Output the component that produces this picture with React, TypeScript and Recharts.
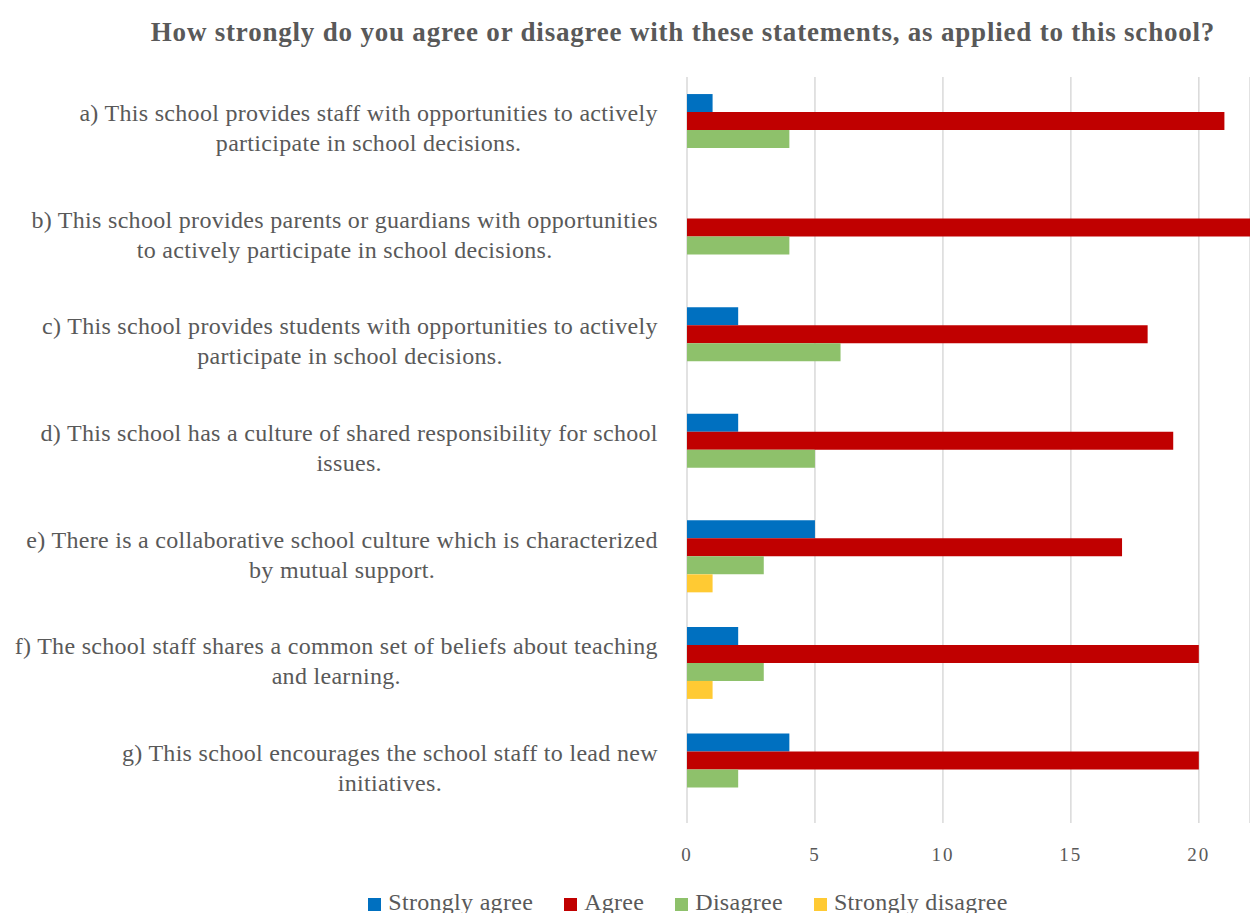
import {
  Bar,
  BarChart,
  CartesianGrid,
  Legend,
  XAxis,
  YAxis,
} from "recharts";

document.body.style.margin = "0";

const categories = [
  "a) This school provides staff with opportunities to actively participate in school decisions.",
  "b) This school provides parents or guardians with opportunities to actively participate in school decisions.",
  "c) This school provides students with opportunities to actively participate in school decisions.",
  "d) This school has a culture of shared responsibility for school issues.",
  "e) There is a collaborative school culture which is characterized by mutual support.",
  "f) The school staff shares a common set of beliefs about teaching and learning.",
  "g) This school encourages the school staff to lead new initiatives.",
];
const stronglyAgree = [1, 0, 2, 2, 5, 2, 4];
const agree = [21, 22, 18, 19, 17, 20, 20];
const disagree = [4, 4, 6, 5, 3, 3, 2];
const stronglyDisagree = [0, 0, 0, 0, 1, 1, 0];
const xTicks = [0, 5, 10, 15, 20];

const series = [
  { key: "sa", name: "Strongly agree", color: "#0070C0" },
  { key: "a", name: "Agree", color: "#C00000" },
  { key: "d", name: "Disagree", color: "#8EC16B" },
  { key: "sd", name: "Strongly disagree", color: "#FFCA33" },
];

const data = categories.map((category, i) => ({
  category,
  sa: stronglyAgree[i],
  a: agree[i],
  d: disagree[i],
  sd: stronglyDisagree[i],
}));

const FONT = '"Liberation Serif", "DejaVu Serif", serif';
const TEXT = "#595959";
const LABEL_SIZE = 24;
const LABEL_SPACING = 0.3;

let ctx: CanvasRenderingContext2D | null = null;
function measure(s: string) {
  if (!ctx) ctx = document.createElement("canvas").getContext("2d");
  if (!ctx) return s.length * LABEL_SIZE * 0.45;
  ctx.font = `${LABEL_SIZE}px ${FONT}`;
  return ctx.measureText(s).width + s.length * LABEL_SPACING;
}

function wrap(s: string, max: number) {
  const lines: string[] = [];
  let cur = "";
  for (const w of s.split(" ")) {
    const next = cur ? cur + " " + w : w;
    if (next.length > max && cur) {
      lines.push(cur);
      cur = w;
    } else cur = next;
  }
  if (cur) lines.push(cur);
  return lines;
}

function CategoryTick(props: any) {
  const { x, y, payload } = props;
  const lines = wrap(payload.value, 65);
  const w = Math.max(...lines.map(measure));
  const cx = x - 21 - w / 2;
  const lh = 30;
  const y0 = y - 2 - ((lines.length - 1) * lh) / 2;
  return (
    <g>
      {lines.map((l, i) => (
        <text
          key={i}
          x={cx}
          y={y0 + i * lh}
          textAnchor="middle"
          dominantBaseline="central"
          fill={TEXT}
          fontSize={LABEL_SIZE}
          fontFamily={FONT}
          letterSpacing={LABEL_SPACING}
        >
          {l}
        </text>
      ))}
    </g>
  );
}

function SeriesLegend() {
  return (
    <div
      style={{
        display: "flex",
        justifyContent: "center",
        gap: 31,
        height: 30,
        lineHeight: "30px",
        fontSize: 24,
        letterSpacing: 0.3,
        fontFamily: FONT,
        color: TEXT,
        paddingLeft: 126,
        transform: "translateY(4px)",
      }}
    >
      {series.map((s) => (
        <div key={s.key} style={{ display: "flex", alignItems: "center" }}>
          <span
            style={{
              display: "inline-block",
              width: 13,
              height: 13,
              background: s.color,
              marginRight: 7,
              marginTop: 4,
            }}
          />
          {s.name}
        </div>
      ))}
    </div>
  );
}

export default function App() {
  return (
    <div
      style={{
        position: "relative",
        width: 1250,
        height: 913,
        overflow: "hidden",
        background: "#fff",
        fontFamily: FONT,
      }}
    >
      <div
        style={{
          position: "absolute",
          left: 116,
          width: 1134,
          top: 17,
          textAlign: "center",
          fontSize: 27,
          letterSpacing: 0.8,
          fontWeight: "bold",
          color: TEXT,
          whiteSpace: "nowrap",
        }}
      >
        How strongly do you agree or disagree with these statements, as applied
        to this school?
      </div>
      <BarChart
        width={1250}
        height={913}
        data={data}
        layout="vertical"
        margin={{ top: 77, right: 0, bottom: 0, left: 0 }}
        barCategoryGap="16%"
        barGap={0}
      >
        <CartesianGrid horizontal={false} stroke="#d9d9d9" strokeWidth={1.5} />
        <XAxis
          type="number"
          domain={[0, 22]}
          ticks={xTicks}
          axisLine={false}
          tickLine={false}
          tickMargin={19}
          height={60}
          tick={{ fill: TEXT, fontSize: 19, fontFamily: FONT, letterSpacing: 2 }}
          allowDataOverflow
        />
        <YAxis
          type="category"
          dataKey="category"
          width={687}
          axisLine={false}
          tickLine={false}
          tick={<CategoryTick />}
          interval={0}
        />
        <Legend verticalAlign="bottom" content={<SeriesLegend />} />
        {series.map((s) => (
          <Bar
            key={s.key}
            dataKey={s.key}
            name={s.name}
            fill={s.color}
            isAnimationActive={false}
          />
        ))}
      </BarChart>
    </div>
  );
}
